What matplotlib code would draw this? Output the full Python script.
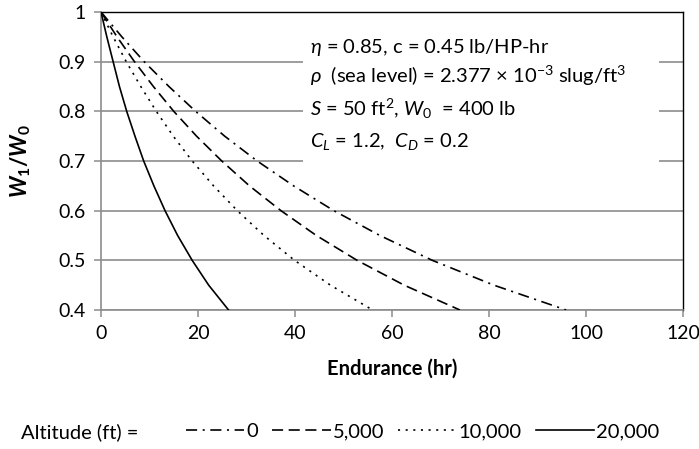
import matplotlib
matplotlib.use("Agg")
import matplotlib.pyplot as plt
from matplotlib.patches import Rectangle

plt.rcParams['font.family'] = ['Lato', 'DejaVu Sans']
plt.rcParams['mathtext.fontset'] = 'custom'
plt.rcParams['mathtext.rm'] = 'Lato'
plt.rcParams['mathtext.it'] = 'Lato:italic'
plt.rcParams['mathtext.bf'] = 'Lato:bold'
plt.rcParams['mathtext.sf'] = 'Lato:bold:italic'
plt.rcParams['lines.scale_dashes'] = False

# weight fraction W1/W0 (y) and endurance in hours (x)
weight_ratio = [1.0, 0.95, 0.9, 0.85, 0.8, 0.75, 0.7, 0.65, 0.6, 0.55, 0.5, 0.45, 0.4]
endurance_0 = [0, 4.3, 8.9, 14.0, 19.5, 25.5, 32.2, 39.7, 48.0, 57.5, 68.3, 81.0, 95.9]
endurance_5000 = [0, 3.3, 6.9, 10.8, 15.0, 19.7, 24.9, 30.6, 37.1, 44.4, 52.8, 62.5, 74.0]
endurance_10000 = [0, 2.5, 5.2, 8.2, 11.4, 14.9, 18.8, 23.2, 28.1, 33.6, 39.9, 47.3, 56.0]
endurance_20000 = [0, 1.2, 2.5, 3.8, 5.3, 7.0, 8.8, 10.9, 13.2, 15.8, 18.8, 22.2, 26.3]

altitude_labels = ['0', '5,000', '10,000', '20,000']
x_ticks = [0, 20, 40, 60, 80, 100, 120]
y_ticks = [0.4, 0.5, 0.6, 0.7, 0.8, 0.9, 1.0]
y_ticklabels = ['0.4', '0.5', '0.6', '0.7', '0.8', '0.9', '1']

fig = plt.figure(figsize=(6.99, 4.49), dpi=100)
ax = fig.add_axes([0.1445, 0.3096, 0.8326, 0.6637])

grey = '#8c8c8c'
fs = 14.5

series = [endurance_0, endurance_5000, endurance_10000, endurance_20000]
styles = [(0, (8, 4, 1.5, 4)), (0, (8, 4)), (0, (1.5, 4)), '-']
handles = []
for xs, st in zip(series, styles):
    ln, = ax.plot(xs, weight_ratio, color='black', lw=1.2, linestyle=st, zorder=3)
    handles.append(ln)

ax.set_xlim(0, 120)
ax.set_ylim(0.4, 1.0)
ax.set_xticks(x_ticks)
ax.set_yticks(y_ticks)
ax.set_yticklabels(y_ticklabels)
ax.tick_params(axis='both', labelsize=14, colors=grey, labelcolor='black',
               length=5, width=1.1, direction='out', pad=6)
ax.yaxis.grid(True, color=grey, lw=1.2, zorder=0)
ax.set_axisbelow(True)
for s in ['left', 'bottom']:
    ax.spines[s].set_color(grey)
    ax.spines[s].set_linewidth(1.2)
for s in ['top', 'right']:
    ax.spines[s].set_color('black')
    ax.spines[s].set_linewidth(1.0)

# white box behind the parameter text
ax.add_patch(Rectangle((0.347, 0.453), 0.612, 0.52, transform=ax.transAxes,
                       facecolor='white', edgecolor='none', zorder=1))
notes = [r'$\eta$ = 0.85, c = 0.45 lb/HP-hr',
         r'$\rho$  (sea level) = 2.377 $\times$ 10$^{-3}$ slug/ft$^3$',
         r'$S$ = 50 ft$^2$, $W_0$  = 400 lb',
         r'$C_L$ = 1.2,  $C_D$ = 0.2']
for txt, yy in zip(notes, [0.862, 0.762, 0.651, 0.547]):
    ax.text(0.359, yy, txt, transform=ax.transAxes, fontsize=fs, va='baseline', zorder=4)

ax.set_xlabel('Endurance (hr)', fontsize=fs, fontweight='bold', labelpad=12)
ax.set_ylabel(r'$\mathsf{W}_\mathbf{1}\mathbf{/}\mathsf{W}_\mathbf{0}$', fontsize=16)
ax.yaxis.set_label_coords(-0.117, 0.5)

fig.text(0.030, 0.038, 'Altitude (ft) =', fontsize=fs, va='center', ha='left')
fig.legend(handles, altitude_labels, loc='center left', bbox_to_anchor=(0.266, 0.038),
           ncol=4, frameon=False, fontsize=fs, handlelength=2.9, handletextpad=0.1,
           columnspacing=0.7, borderpad=0, borderaxespad=0)

fig.savefig('out.png', dpi=100)
